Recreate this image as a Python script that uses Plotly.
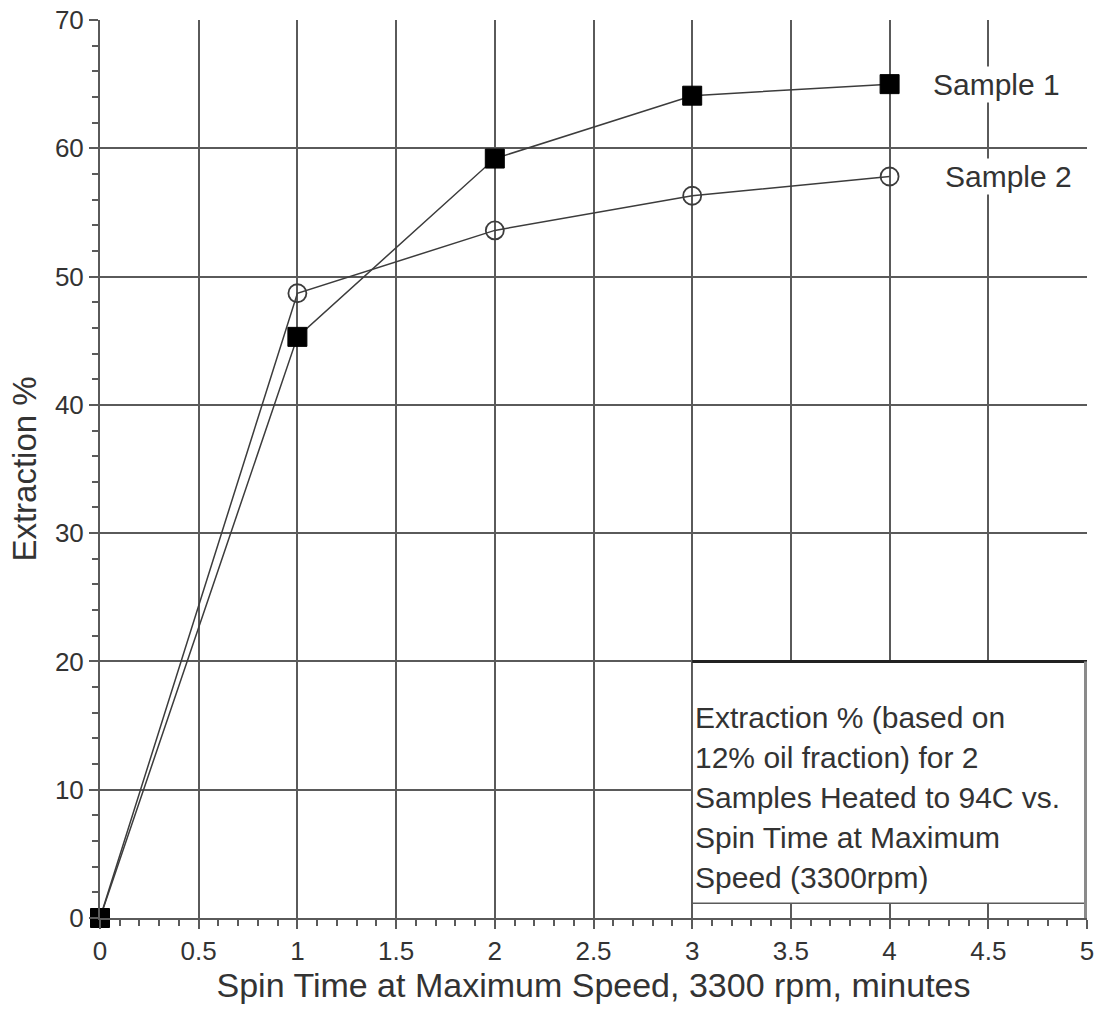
import plotly.graph_objects as go

spin_time = [0, 1, 2, 3, 4]
sample1 = [0, 45.3, 59.2, 64.1, 65.0]
sample2 = [0, 48.7, 53.6, 56.3, 57.8]
series_names = ["Sample 1", "Sample 2"]
box_lines = ["Extraction % (based on", "12% oil fraction) for 2",
             "Samples Heated to 94C vs.", "Spin Time at Maximum",
             "Speed (3300rpm)"]
x_title = "Spin Time at Maximum Speed, 3300 rpm, minutes"
y_title = "Extraction %"
y_ticks = [0, 10, 20, 30, 40, 50, 60, 70]

FONT = "Liberation Sans, Arial, sans-serif"
GRID = "#5a5a5a"
LINE = "#3c3c3c"
TXT = "#333"

fig = go.Figure()
fig.add_trace(go.Scatter(x=spin_time, y=sample2, mode="lines+markers",
                         cliponaxis=False,
                         line=dict(color=LINE, width=1.5),
                         marker=dict(symbol="circle-open", size=18,
                                     line=dict(color=LINE, width=1.8)),
                         name=series_names[1], showlegend=False))
fig.add_trace(go.Scatter(x=spin_time, y=sample1, mode="lines+markers",
                         cliponaxis=False,
                         line=dict(color=LINE, width=1.5),
                         marker=dict(symbol="square", size=19, color="#000",
                                     line=dict(color="#000", width=1)),
                         name=series_names[0], showlegend=False))

# series labels
fig.add_annotation(x=4.21, y=sample1[-1], text=series_names[0], showarrow=False,
                   xanchor="left", yanchor="middle", bgcolor="white",
                   font=dict(family=FONT, size=30, color=TXT))
fig.add_annotation(x=4.27, y=sample2[-1], text=series_names[1], showarrow=False,
                   xanchor="left", yanchor="middle", bgcolor="white",
                   font=dict(family=FONT, size=30, color=TXT))

# note box
fig.add_shape(type="rect", x0=3.0, x1=5.0, y0=1.15, y1=20, layer="above",
              fillcolor="white", line=dict(color=GRID, width=1.5))
fig.add_shape(type="line", x0=3.0, x1=5.0, y0=20, y1=20, layer="above",
              line=dict(color="#222", width=3))
fig.add_shape(type="line", x0=5.0, x1=5.0, y0=0, y1=20, layer="above",
              line=dict(color="#8a8a8a", width=6))
for i, t in enumerate(box_lines):
    fig.add_annotation(x=3.005, y=15.6 - 3.12 * i, text=t, showarrow=False,
                       xanchor="left", yanchor="middle",
                       font=dict(family=FONT, size=30, color=TXT))

fig.update_xaxes(range=[0, 5], dtick=0.5, tick0=0, automargin=False,
                 showgrid=True, gridcolor=GRID, gridwidth=2,
                 showline=True, linecolor=GRID, linewidth=2,
                 zeroline=False,
                 ticks="outside", ticklen=9, tickwidth=2, tickcolor=GRID,
                 minor=dict(dtick=0.1, ticks="outside", ticklen=6,
                            tickcolor=GRID, tickwidth=1.5, showgrid=False),
                 tickfont=dict(family=FONT, size=26, color=TXT),
                 title=dict(text=x_title, standoff=8,
                            font=dict(family=FONT, size=34, color=TXT)))
fig.update_yaxes(range=[-0.0001, 70.0001], tickmode="array", tickvals=y_ticks,
                 automargin=False,
                 showgrid=True, gridcolor=GRID, gridwidth=2,
                 showline=True, linecolor=GRID, linewidth=2,
                 zeroline=False,
                 ticks="outside", ticklen=9, tickwidth=2, tickcolor=GRID,
                 minor=dict(dtick=2, tick0=0, ticks="outside", ticklen=6,
                            tickcolor=GRID, tickwidth=1.5, showgrid=False),
                 tickfont=dict(family=FONT, size=26, color=TXT),
                 title=dict(text=y_title, standoff=8,
                            font=dict(family=FONT, size=33, color=TXT)))

fig.update_layout(width=1101, height=1014,
                  margin=dict(l=100, r=14, t=20, b=96),
                  plot_bgcolor="white", paper_bgcolor="white")

fig.write_html("out.html", config={"displayModeBar": False},
               post_script="document.body.style.margin='0';")
